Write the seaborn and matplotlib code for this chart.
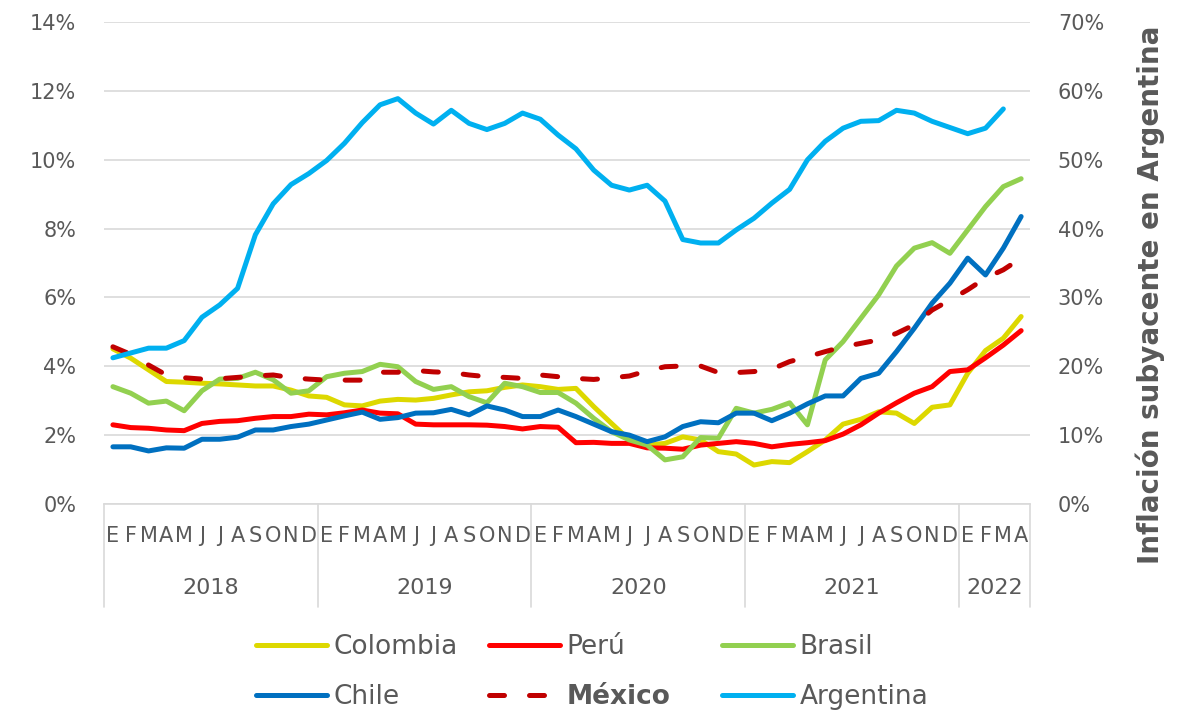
import numpy as np
import pandas as pd
import matplotlib
matplotlib.use("Agg")
import matplotlib.pyplot as plt
import seaborn as sns

# monthly core inflation, Jan 2018 - Apr 2022 (%)
months = list("EFMAMJJASOND") * 4 + list("EFMA")
years = ["2018", "2019", "2020", "2021", "2022"]

colombia = [4.50, 4.23, 3.89, 3.55, 3.53, 3.50, 3.48, 3.45, 3.42, 3.42, 3.30, 3.13,
            3.09, 2.87, 2.84, 2.98, 3.03, 3.01, 3.06, 3.16, 3.25, 3.28, 3.38, 3.45,
            3.40, 3.32, 3.35, 2.82, 2.33, 1.85, 1.70, 1.75, 1.94, 1.85, 1.51, 1.44,
            1.12, 1.22, 1.19, 1.51, 1.85, 2.31, 2.45, 2.67, 2.63, 2.33, 2.80, 2.87,
            3.79, 4.45, 4.81, 5.44]
peru = [2.29, 2.21, 2.19, 2.14, 2.12, 2.33, 2.39, 2.41, 2.48, 2.53, 2.53, 2.60,
        2.58, 2.64, 2.72, 2.63, 2.61, 2.31, 2.29, 2.29, 2.29, 2.28, 2.24, 2.17,
        2.24, 2.22, 1.77, 1.78, 1.75, 1.75, 1.62, 1.61, 1.58, 1.70, 1.75, 1.80,
        1.75, 1.65, 1.72, 1.77, 1.83, 2.02, 2.29, 2.63, 2.93, 3.21, 3.40, 3.84,
        3.89, 4.24, 4.61, 5.03]
brasil = [3.40, 3.21, 2.92, 2.98, 2.70, 3.28, 3.62, 3.64, 3.82, 3.60, 3.21, 3.28,
          3.69, 3.79, 3.84, 4.05, 3.98, 3.55, 3.32, 3.40, 3.11, 2.93, 3.50, 3.40,
          3.23, 3.23, 2.92, 2.48, 2.09, 1.85, 1.70, 1.27, 1.36, 1.92, 1.90, 2.77,
          2.63, 2.74, 2.93, 2.29, 4.18, 4.71, 5.39, 6.07, 6.91, 7.43, 7.59, 7.28,
          7.96, 8.64, 9.22, 9.45]
chile = [1.65, 1.65, 1.53, 1.62, 1.61, 1.87, 1.87, 1.93, 2.14, 2.14, 2.24, 2.31,
         2.43, 2.55, 2.66, 2.45, 2.50, 2.63, 2.64, 2.74, 2.58, 2.84, 2.72, 2.53,
         2.53, 2.72, 2.53, 2.31, 2.09, 1.99, 1.80, 1.94, 2.24, 2.38, 2.35, 2.63,
         2.63, 2.41, 2.63, 2.90, 3.13, 3.13, 3.64, 3.79, 4.42, 5.10, 5.83, 6.41,
         7.14, 6.65, 7.43, 8.35]
mexico = [4.56, 4.34, 4.03, 3.74, 3.66, 3.62, 3.63, 3.67, 3.71, 3.74, 3.66, 3.62,
          3.59, 3.59, 3.59, 3.82, 3.82, 3.87, 3.83, 3.81, 3.74, 3.69, 3.67, 3.64,
          3.74, 3.69, 3.64, 3.61, 3.66, 3.71, 3.86, 3.98, 4.00, 4.00, 3.81, 3.81,
          3.84, 3.91, 4.13, 4.27, 4.42, 4.56, 4.66, 4.76, 4.95, 5.20, 5.63, 5.92,
          6.22, 6.56, 6.80, 7.14]
# right axis, ends Mar 2022
argentina = [21.2, 21.9, 22.6, 22.6, 23.7, 27.1, 28.9, 31.3, 39.1, 43.6, 46.4, 48.0,
             49.9, 52.4, 55.4, 58.0, 58.9, 56.8, 55.2, 57.2, 55.3, 54.4, 55.3, 56.8,
             55.9, 53.6, 51.6, 48.5, 46.3, 45.6, 46.3, 44.0, 38.4, 37.9, 37.9, 39.8,
             41.5, 43.7, 45.7, 50.0, 52.7, 54.6, 55.6, 55.7, 57.2, 56.8, 55.6, 54.7,
             53.8, 54.6, 57.4]

series = [("Colombia", colombia, "#DDD800"), ("Perú", peru, "#FF0000"),
          ("Brasil", brasil, "#92D050"), ("Chile", chile, "#0070C0"),
          ("México", mexico, "#C00000")]

sns.set_style("white")
plt.rcParams["font.family"] = ["DejaVu Sans"]
gray = "#595959"
grid = "#D9D9D9"

fig, ax = plt.subplots(figsize=(11.86, 7.11), dpi=100)
fig.subplots_adjust(left=0.0877, right=0.8685, top=0.9686, bottom=0.2918)
ax2 = ax.twinx()

x = np.arange(len(months))
handles = {}
for name, vals, col in series:
    df = pd.DataFrame({"x": x, "y": vals})
    sns.lineplot(data=df, x="x", y="y", ax=ax, color=col, lw=3.6, label=name, legend=False)
    line = ax.lines[-1]
    if name == "México":
        line.set_dashes((3.0, 5.0))
        line.set_dash_capstyle("round")
    handles[name] = line

dfa = pd.DataFrame({"x": x[:len(argentina)], "y": argentina})
sns.lineplot(data=dfa, x="x", y="y", ax=ax2, color="#00B0F0", lw=3.6, legend=False)
handles["Argentina"] = ax2.lines[-1]

ax.set_xlim(-0.5, len(months) - 0.5)
ax.set_ylim(0, 14)
ax2.set_ylim(0, 70)
ax.set_yticks(np.arange(0, 15, 2))
ax2.set_yticks(np.arange(0, 71, 10))
ax.set_yticklabels([f"{v}%" for v in range(0, 15, 2)])
ax2.set_yticklabels([f"{v}%" for v in range(0, 71, 10)])
ax.set_xticks(x)
ax.set_xticklabels(months)
ax.set_xlabel("")
ax.set_ylabel("")
ax2.set_xlabel("")
ax2.set_ylabel("")

ax.grid(axis="y", color=grid, lw=1.2)
ax.set_axisbelow(True)
for a in (ax, ax2):
    for s in a.spines.values():
        s.set_visible(False)
ax.spines["bottom"].set_visible(True)
ax.spines["bottom"].set_color(grid)
ax.spines["bottom"].set_linewidth(1.2)

ax.tick_params(axis="y", length=0, pad=20, labelsize=15, labelcolor=gray)
ax2.tick_params(axis="y", length=0, pad=20, labelsize=15, labelcolor=gray)
ax.tick_params(axis="x", length=0, pad=16, labelsize=15, labelcolor=gray)

# year groups under the month letters
trans = ax.get_xaxis_transform()
bounds = [-0.5, 11.5, 23.5, 35.5, 47.5, len(months) - 0.5]
for b in bounds:
    ax.plot([b, b], [0, -0.216], transform=trans, color=grid, lw=1.2, clip_on=False)
for i, yr in enumerate(years):
    ax.text((bounds[i] + bounds[i + 1]) / 2, -0.176, yr, transform=trans,
            ha="center", va="center", fontsize=16, color=gray)

fig.text(1150 / 1186, 1 - 295 / 711, "Inflación subyacente en Argentina", rotation=90,
         ha="center", va="center", fontsize=20, fontweight="bold", color=gray)

# legend: three columns of two rows
cols = [["Colombia", "Chile"], ["Perú", "México"], ["Brasil", "Argentina"]]
xpos = [256 / 1186, 489 / 1186, 722 / 1186]
for names, xp in zip(cols, xpos):
    leg = fig.legend([handles[n] for n in names], names, loc="upper left",
                     bbox_to_anchor=(xp, 1 - 634 / 711), frameon=False, fontsize=19,
                     handlelength=2.7, handletextpad=0.25, borderpad=0, borderaxespad=0,
                     labelspacing=0.9)
    for t in leg.get_texts():
        t.set_color(gray)
        if t.get_text() == "México":
            t.set_fontweight("bold")

fig.savefig("out.png", dpi=100)
